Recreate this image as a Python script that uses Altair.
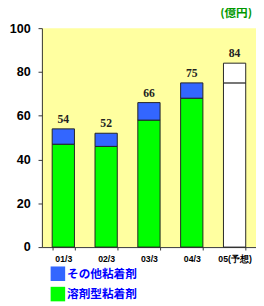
import altair as alt
import pandas as pd

years = ["01/3", "02/3", "03/3", "04/3", "05(予想)"]
solvent = [47, 46, 58, 68, 75]      # 溶剤型粘着剤
totals = [54, 52, 66, 75, 84]
forecast = [False, False, False, False, True]
series_names = ["その他粘着剤", "溶剤型粘着剤"]

rows = []
for y, s, t, f in zip(years, solvent, totals, forecast):
    rows.append({"year": y, "series": series_names[1], "value": s, "ord": 0, "forecast": f})
    rows.append({"year": y, "series": series_names[0], "value": t - s, "ord": 1, "forecast": f})
df = pd.DataFrame(rows)
tot = pd.DataFrame({"year": years, "total": totals})

xenc = alt.X("year:N", sort=years, title=None,
             scale=alt.Scale(paddingInner=0.48, paddingOuter=0.24),
             axis=alt.Axis(labelAngle=0, labelFont="Liberation Sans", labelFontWeight="bold",
                           labelFontSize=9, labelColor="black", domainColor="#333333",
                           tickColor="#333333", tickBand="extent", tickSize=3, labelPadding=5))

bars = alt.Chart(df).mark_bar(stroke="#222222", strokeWidth=1).encode(
    x=xenc,
    y=alt.Y("value:Q", stack="zero", title=None,
            scale=alt.Scale(domain=[0, 100], nice=False),
            axis=alt.Axis(values=[0, 20, 40, 60, 80, 100], grid=False,
                          labelFont="Liberation Sans", labelFontWeight="bold", labelFontSize=13,
                          labelColor="black", domainColor="#333333", tickColor="#333333",
                          tickSize=4, labelPadding=8)),
    order=alt.Order("ord:Q"),
    color=alt.condition(
        "datum.forecast",
        alt.value("white"),
        alt.Color("series:N", sort=series_names,
                  scale=alt.Scale(domain=series_names, range=["#3366FF", "#00FF00"]),
                  legend=alt.Legend(title=None, orient="none", legendX=9, legendY=246,
                                    symbolType="square", symbolSize=225, symbolStrokeWidth=0,
                                    symbolOpacity=1,
                                    labelFont="Noto Sans CJK JP", labelFontWeight="bold",
                                    labelFontSize=12, labelColor="#0000FF", labelOffset=2,
                                    rowPadding=6, padding=0)),
    ),
)

labels = alt.Chart(tot).mark_text(baseline="bottom", dy=-3, font="Liberation Serif",
                                  fontWeight="bold", fontSize=12, color="#222222").encode(
    x=alt.X("year:N", sort=years),
    y=alt.Y("total:Q"),
    text=alt.Text("total:Q"),
)

chart = (bars + labels).properties(
    width=221, height=226,
    padding={"left": 35, "top": 16, "right": 0, "bottom": 56},
    autosize=alt.AutoSizeParams(type="none"),
    title=alt.TitleParams("(億円)", anchor="end", color="#009900", font="Noto Sans CJK JP",
                          fontWeight="bold", fontSize=12, offset=3, dx=-4),
).configure_view(fill="#FFFFA0", stroke=None)

chart.save("out.html", embed_options={"renderer": "svg", "actions": False})
